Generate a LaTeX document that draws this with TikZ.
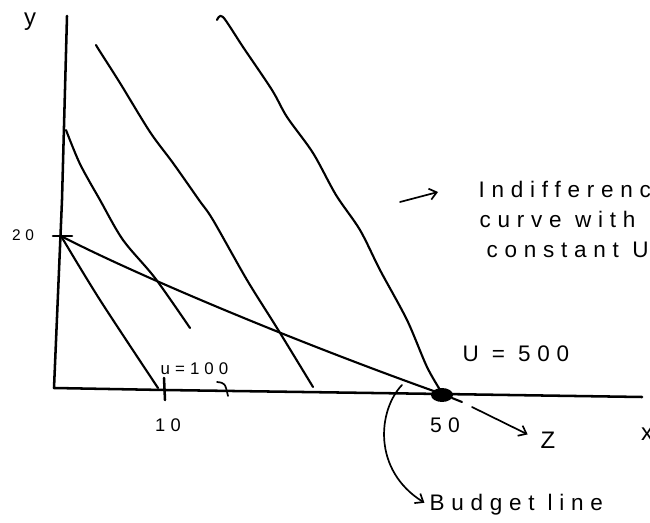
\documentclass[tikz,border=0pt]{standalone}
\usepackage{fontspec}
\setmainfont{Liberation Sans}
\newfontfamily\handfont{Liberation Sans}[LetterSpace=30]
\newcommand\handsz[1]{\handfont\fontsize{#1}{#1}\selectfont}
\usetikzlibrary{arrows.meta}

\begin{document}
\begin{tikzpicture}[
    x=0.025cm, y=-0.025cm,
    axis/.style={line width=1.8pt, line cap=round, line join=round},
    curve/.style={line width=1.5pt, line cap=round, line join=round},
    pointer/.style={line width=1.2pt, line cap=round, -{Straight Barb[length=5pt, width=8pt]}},
    label/.style={inner sep=1pt}
  ]
  \useasboundingbox (0,0) rectangle (650,523);
  \clip (0,0) rectangle (650,523);

  % axes
  \draw[axis] (67,16) -- (62,200) -- (54,388) -- (164,390) -- (442,394) -- (642,397);
  \node[label, font=\handsz{17}] (ylbl) at (30,22) {y};
  \node[label, font=\handsz{17}] (xlbl) at (647,434) {x};

  % ticks
  \draw[axis] (53,236) -- (72,236);
  \node[label, font=\handsz{11}] (lbl20) at (23,235) {20};
  \draw[axis] (164,378) -- (165,400);
  \node[label, font=\handsz{13}] (lbl10) at (168,425) {10};
  \node[label, font=\handsz{15}] (lbl50) at (445,425) {50};

  % budget line
  \draw[curve] (61,236) .. controls (130,272) and (290,340) .. (442,394);
  \fill (442,395) ellipse [x radius=11, y radius=7];
  \draw[curve] (452,398) -- (462,402);

  % indifference curves
  \draw[curve] plot[smooth] coordinates {(61,236) (100,300) (158,388)};
  \draw[curve] plot[smooth] coordinates {(66,130) (80,164) (100,200) (123,240) (155,278) (190,328)};
  \draw[curve] plot[smooth] coordinates {(96,45) (99,50) (120,83) (150,132) (173,163) (199,200)
    (213,220) (247,280) (277,328) (313,387)};
  \draw[curve] plot[smooth] coordinates {(217,20) (223,17) (243,47) (272,90) (287,117) (313,153)
    (336,195) (360,230) (380,270) (407,320) (427,367) (442,393)};

  % U = 100
  \node[label, font=\handsz{12}, anchor=west] (u100) at (159,369) {u=100};
  \draw[curve, line width=1.2pt] (217,382) .. controls (225,383) .. (228,396);

  % U = 500
  \node[label, font=\handsz{16}, anchor=west] (u500) at (461,354) {U = 500};

  % note
  \node[label, font=\handsz{16}, anchor=base west] (note1) at (477,198) {Indifference};
  \node[label, font=\handsz{16}, anchor=base west] (note2) at (478,228) {curve\hspace{0.6em}with};
  \node[label, font=\handsz{16}, anchor=base west] (note3) at (485,258) {constant\hspace{0.6em}U};
  \coordinate (notetail) at (400,202);
  \coordinate (notehead) at (438,192);
  \draw[pointer] (notetail) -- (notehead);

  % z
  \node[label, font=\handsz{17}] (zlbl) at (548,440) {Z};
  \coordinate (ztail) at (472,407);
  \draw[pointer, shorten >=9pt] (ztail) -- (zlbl.west);

  % budget label
  \node[label, font=\handsz{16}, anchor=west] (budget) at (428,505) {Budget line};
  \coordinate (btail) at (402,385);
  \draw[pointer, shorten >=3pt] (btail) .. controls (378,410) and (372,470) .. (budget.west);
\end{tikzpicture}
\end{document}
